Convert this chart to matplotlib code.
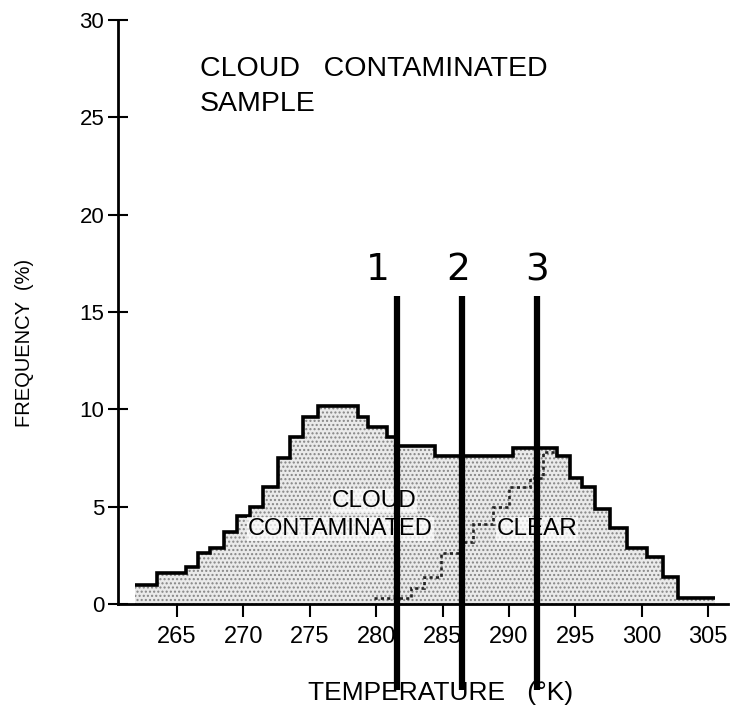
import numpy as np
import matplotlib.pyplot as plt

# Whole sample histogram (step edges in K, frequency in %)
sample_edges = [261.8, 263.5, 265.7, 266.6, 267.5, 268.5, 269.5, 270.5, 271.5,
                272.6, 273.5, 274.5, 275.6, 278.6, 279.4, 280.8, 281.6, 284.4,
                290.3, 293.6, 294.6, 295.5, 296.5, 297.6, 298.9, 300.4, 301.6,
                302.7, 305.5]
sample_freq = [1.0, 1.6, 1.9, 2.6, 2.9, 3.7, 4.5, 5.0, 6.0, 7.5, 8.6, 9.6, 10.2,
               9.6, 9.1, 8.6, 8.1, 7.6, 8.0, 7.6, 6.5, 6.0, 4.9, 3.9, 2.9, 2.4,
               1.4, 0.3]

# Clear part (dotted outline)
clear_edges = [279.8, 282.6, 283.6, 284.9, 286.3, 287.3, 288.8, 290.0, 291.6,
               292.6, 293.6]
clear_freq = [0.3, 0.8, 1.4, 2.6, 3.2, 4.1, 5.0, 6.0, 6.5, 7.8]

# Threshold markers and their labels
thresholds = [281.6, 286.5, 292.1]
threshold_names = ['1', '2', '3']
name_x = [280.1, 286.2, 292.1]

xticks = [265, 270, 275, 280, 285, 290, 295, 300, 305]
yticks = [0, 5, 10, 15, 20, 25, 30]

font = 'Liberation Sans'


def main():
    fig = plt.figure(figsize=(7.34, 7.09), dpi=100)
    ax = fig.add_axes([0.1608, 0.148, 0.831, 0.8237])

    # stippled fill + heavy outline
    ax.stairs(sample_freq, sample_edges, fill=True, facecolor='#eaeaea',
              edgecolor='#858585', hatch='....', linewidth=0)
    ax.stairs(sample_freq, sample_edges, baseline=None, color='black',
              linewidth=2.6)
    ax.stairs(clear_freq, clear_edges, baseline=None, color='#222222',
              linewidth=1.9, linestyle=(0, (1.2, 1.2)))

    ax.set_xlim(260.55, 306.5)
    ax.set_ylim(0, 30)
    ax.set_xticks(xticks)
    ax.set_yticks(yticks)
    ax.set_xticklabels([str(t) for t in xticks], fontsize=17, family=font)
    ax.set_yticklabels([str(t) for t in yticks], fontsize=16, family=font)
    ax.tick_params(axis='y', direction='inout', length=14, width=1.5, pad=3)
    ax.tick_params(axis='x', direction='out', length=9, width=1.5, pad=7)
    for s in ['top', 'right']:
        ax.spines[s].set_visible(False)
    for s in ['left', 'bottom']:
        ax.spines[s].set_linewidth(2)

    ax.set_ylabel('FREQUENCY  (%)', fontsize=14.5, family=font)
    ax.yaxis.set_label_coords(-0.138, 0.447)
    ax.set_xlabel('TEMPERATURE   (°K)', fontsize=19, family=font)
    ax.xaxis.set_label_coords(0.528, -0.132)

    ax.text(266.7, 27.5, 'CLOUD   CONTAMINATED', fontsize=20.5, family=font,
            va='center', ha='left')
    ax.text(266.7, 25.7, 'SAMPLE', fontsize=20.5, family=font,
            va='center', ha='left')

    box = dict(facecolor='white', edgecolor='none', alpha=0.7, pad=0.5)
    ax.text(279.85, 5.3, 'CLOUD', fontsize=17.5, family=font, ha='center',
            va='center', bbox=box)
    ax.text(277.3, 3.85, 'CONTAMINATED', fontsize=17, family=font,
            ha='center', va='center', bbox=box)
    ax.text(292.1, 3.85, 'CLEAR', fontsize=17.5, family=font, ha='center',
            va='center', bbox=box)

    for x, lx, name in zip(thresholds, name_x, threshold_names):
        ax.plot([x, x], [-4.4, 15.8], color='black', linewidth=4.5,
                clip_on=False, solid_capstyle='butt', zorder=5)
        ax.text(lx, 17.15, name, fontsize=27, family='DejaVu Sans',
                ha='center', va='center')

    fig.savefig('out.png', dpi=100)


if __name__ == '__main__':
    main()
